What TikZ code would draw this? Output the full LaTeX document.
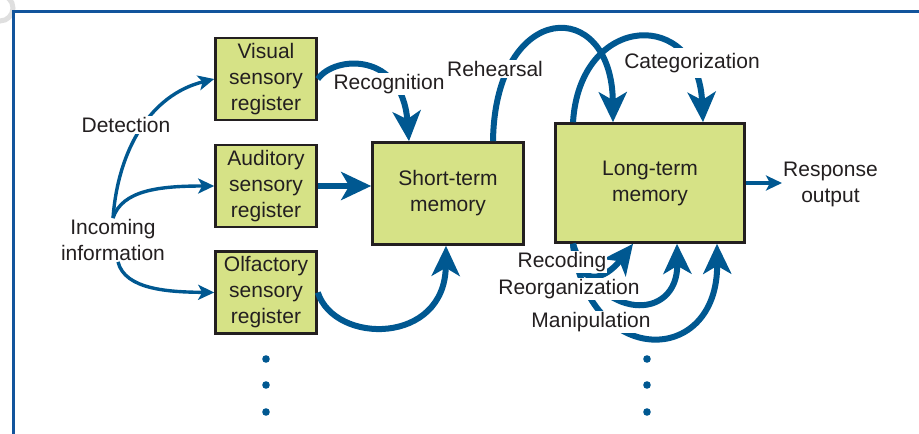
\documentclass[tikz,border=0pt]{standalone}
\usepackage{fontspec}
\setmainfont{Liberation Sans}
\usetikzlibrary{arrows.meta, positioning}
\definecolor{flowblue}{RGB}{0,88,145}
\definecolor{frameblue}{RGB}{18,84,156}
\definecolor{boxgreen}{RGB}{214,226,134}
\definecolor{inkgray}{RGB}{35,31,32}

\begin{document}
\begin{tikzpicture}[x=1pt, y=-1pt,
    box/.style={draw=inkgray, line width=2.6pt, fill=boxgreen, align=center,
                text=inkgray, inner sep=0pt, minimum width=101pt, minimum height=82pt,
                font=\fontsize{21}{26}\selectfont},
    bigbox/.style={box, minimum width=151pt, minimum height=102pt},
    lbl/.style={fill=white, inner sep=1pt, align=center, text=inkgray,
                font=\fontsize{21}{26}\selectfont},
    arrow/.style={flowblue, line width=3.4pt, -{Stealth[length=16pt, width=15pt, inset=4pt]}},
    thickarrow/.style={flowblue, line width=6pt, -{Stealth[length=30pt, width=28pt, inset=8pt]}},
    dot/.style={fill=flowblue}
]
\useasboundingbox (0,0) rectangle (919,434);

% ====================== FRAME ======================
\draw[gray!25, line width=5pt] (0,8) circle[radius=13];
\draw[frameblue, line width=3pt] (919,11) -- (13.5,11) -- (13.5,434);

% ====================== SENSORY REGISTERS ======================
\node[box] (vis) at (266, 79)    {Visual\\sensory\\register};
\node[box] (aud) at (266, 186)   {Auditory\\sensory\\register};
\node[box] (olf) at (266, 292.5) {Olfactory\\sensory\\register};

% ====================== MEMORY STORES ======================
\node[bigbox] (stm) at (448, 193.5) {Short-term\\memory};
\node[bigbox, minimum width=189pt, minimum height=119pt] (ltm) at (650, 183) {Long-term\\memory};

% ====================== INPUT & OUTPUT ======================
\node[lbl] (inc) at (113, 240) {Incoming\\information};
\node[lbl, anchor=west] (resp) at (782, 184) {Response\\output};

% ====================== ARROWS ======================
\draw[arrow] (inc.north) .. controls (118,150) and (150,95) .. (vis.west);
\draw[arrow] (inc.north) .. controls (122,190) and (160,186) .. (aud.west);
\draw[arrow] ([xshift=5pt]inc.south) .. controls (125,290) and (170,292) .. (olf.west);

\draw[thickarrow] (vis.east) .. controls (335,55) and (402,52) .. ([xshift=-39pt]stm.north);
\draw[thickarrow] (aud.east) -- (aud.east -| stm.west);
\draw[thickarrow] (olf.east) .. controls (335,345) and (445,345) .. ([xshift=-2pt]stm.south);

\draw[thickarrow] ([xshift=45pt]stm.north) .. controls (495,0) and (612,-5) .. ([xshift=-37pt]ltm.north);
\draw[thickarrow] ([xshift=-77pt]ltm.north) .. controls (580,12) and (698,8) .. ([xshift=53pt]ltm.north);

\draw[arrow] (ltm.east) -- (ltm.east -| resp.west);

\draw[thickarrow] ([xshift=-77pt]ltm.south) .. controls (578,290) and (605,280) .. ([xshift=-17pt]ltm.south);
\draw[thickarrow] ([xshift=-77pt]ltm.south) .. controls (598,322) and (678,322) .. ([xshift=27pt]ltm.south);
\draw[thickarrow] ([xshift=-77pt]ltm.south) .. controls (588,368) and (718,368) .. ([xshift=67pt]ltm.south);

% ====================== LABELS ======================
\node[lbl] (det)   at (126, 125) {Detection};
\node[lbl] (recog) at (389, 84)  {Recognition};
\node[lbl] (reh)   at (495, 69)  {Rehearsal};
\node[lbl, inner ysep=5pt] (cat) at (692, 63) {Categorization};
\node[lbl] (rec)   at (562, 262) {Recoding};
\node[lbl] (reorg) at (569, 289) {Reorganization};
\node[lbl] (man)   at (591, 322) {Manipulation};

% ====================== CONTINUATION DOTS ======================
\foreach \y in {359, 385, 412} {
    \fill[dot] (266,\y) circle[radius=3.8];
    \fill[dot] (647,\y) circle[radius=3.8];
}

\end{tikzpicture}
\end{document}
